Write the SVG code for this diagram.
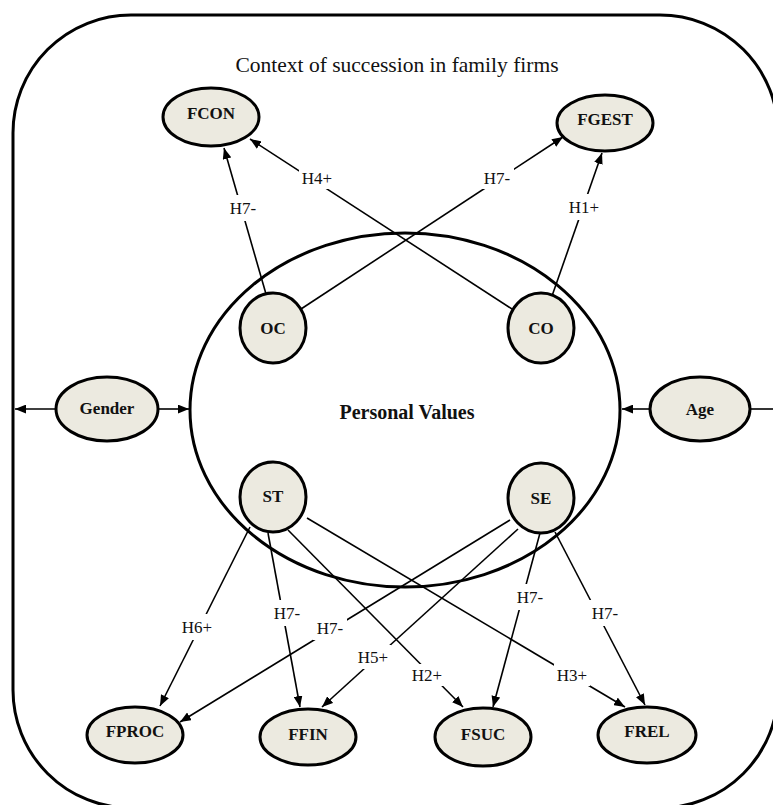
<svg xmlns="http://www.w3.org/2000/svg" width="773" height="805" viewBox="0 0 773 805">
<style>
.frame{fill:none;stroke:#000;stroke-width:3}
.node{fill:#ECEAE0;stroke:#000;stroke-width:3}
.nt{font-family:"Liberation Serif","Times New Roman",serif;font-weight:bold;font-size:17px;fill:#111;text-anchor:middle;dominant-baseline:central}
.lbl{font-family:"Liberation Serif","Times New Roman",serif;font-size:17px;fill:#111;text-anchor:middle;dominant-baseline:central}
.lb{fill:#fff}
.c{stroke:#000;stroke-width:1.6;fill:none}
.a{marker-end:url(#arr)}
</style>
<defs>
<marker id="arr" viewBox="0 0 10 8" refX="10" refY="4" markerWidth="11" markerHeight="9" markerUnits="userSpaceOnUse" orient="auto">
<path d="M0,0 L10,4 L0,8 Z" fill="#000"/>
</marker>
</defs>
<rect class="frame" x="13" y="15" width="765" height="793" rx="118" ry="118"/>
<text x="397" y="72" font-family="'Liberation Serif','Times New Roman',serif" font-size="21.5" text-anchor="middle" fill="#111">Context of succession in family firms</text>
<g id="personal-values">
<ellipse class="frame" cx="405" cy="410" rx="215" ry="177"/>
<text x="407" y="412" font-family="'Liberation Serif','Times New Roman',serif" font-weight="bold" font-size="20" text-anchor="middle" dominant-baseline="central" fill="#111">Personal Values</text>
</g>
<g id="connectors">
<line class="c a" x1="56" y1="409" x2="15" y2="409"/>
<line class="c a" x1="158" y1="409" x2="189" y2="409"/>
<line class="c a" x1="650" y1="409" x2="622" y2="409"/>
<line class="c" x1="750" y1="409" x2="776" y2="409"/>
<line class="c a" x1="266" y1="294" x2="224" y2="148"/>
<line class="c a" x1="512" y1="309" x2="250" y2="139"/>
<line class="c a" x1="301" y1="309" x2="563" y2="137"/>
<line class="c a" x1="552" y1="296" x2="602" y2="153"/>
<line class="c a" x1="250" y1="527" x2="160" y2="706"/>
<line class="c a" x1="510" y1="520" x2="180" y2="722"/>
<line class="c a" x1="268" y1="533" x2="300" y2="707"/>
<line class="c a" x1="518" y1="529" x2="322" y2="707"/>
<line class="c a" x1="288" y1="530" x2="463" y2="707"/>
<line class="c a" x1="307" y1="518" x2="625" y2="707"/>
<line class="c a" x1="540" y1="533" x2="493" y2="707"/>
<line class="c a" x1="555" y1="532" x2="645" y2="705"/>
<g id="labels">
<rect class="lb" x="226" y="195" width="34" height="26"/><text class="lbl" x="243" y="208">H7-</text>
<rect class="lb" x="299" y="167" width="36" height="22"/><text class="lbl" x="317" y="178">H4+</text>
<rect class="lb" x="480" y="167" width="34" height="22"/><text class="lbl" x="497" y="178">H7-</text>
<rect class="lb" x="566" y="194" width="36" height="26"/><text class="lbl" x="584" y="207">H1+</text>
<rect class="lb" x="179" y="614" width="36" height="26"/><text class="lbl" x="197" y="627">H6+</text>
<rect class="lb" x="313" y="616" width="34" height="24"/><text class="lbl" x="330" y="628">H7-</text>
<rect class="lb" x="270" y="600" width="34" height="26"/><text class="lbl" x="287" y="613">H7-</text>
<rect class="lb" x="355" y="645" width="36" height="24"/><text class="lbl" x="373" y="657">H5+</text>
<rect class="lb" x="409" y="664" width="36" height="22"/><text class="lbl" x="427" y="675">H2+</text>
<rect class="lb" x="554" y="664" width="36" height="22"/><text class="lbl" x="572" y="675">H3+</text>
<rect class="lb" x="513" y="584" width="34" height="26"/><text class="lbl" x="530" y="597">H7-</text>
<rect class="lb" x="588" y="600" width="34" height="26"/><text class="lbl" x="605" y="613">H7-</text>
</g>
</g>
<g id="FCON"><ellipse class="node" cx="211" cy="117" rx="48" ry="29"/><text class="nt" x="211" y="113">FCON</text></g>
<g id="FGEST"><ellipse class="node" cx="605" cy="123" rx="48" ry="28"/><text class="nt" x="605" y="119">FGEST</text></g>
<g id="OC"><ellipse class="node" cx="273" cy="328" rx="33" ry="35"/><text class="nt" x="273" y="328">OC</text></g>
<g id="CO"><ellipse class="node" cx="541" cy="328" rx="33" ry="35"/><text class="nt" x="541" y="328">CO</text></g>
<g id="Gender"><ellipse class="node" cx="107" cy="409" rx="51" ry="32"/><text class="nt" x="107" y="408">Gender</text></g>
<g id="Age"><ellipse class="node" cx="700" cy="409" rx="50" ry="32"/><text class="nt" x="700" y="409">Age</text></g>
<g id="ST"><ellipse class="node" cx="273" cy="497" rx="33" ry="35"/><text class="nt" x="273" y="496">ST</text></g>
<g id="SE"><ellipse class="node" cx="541" cy="498" rx="33" ry="35"/><text class="nt" x="541" y="498">SE</text></g>
<g id="FPROC"><ellipse class="node" cx="135" cy="735" rx="48" ry="28"/><text class="nt" x="135" y="731">FPROC</text></g>
<g id="FFIN"><ellipse class="node" cx="308" cy="737" rx="48" ry="28"/><text class="nt" x="308" y="734">FFIN</text></g>
<g id="FSUC"><ellipse class="node" cx="483" cy="737" rx="48" ry="29"/><text class="nt" x="483" y="734">FSUC</text></g>
<g id="FREL"><ellipse class="node" cx="647" cy="735" rx="49" ry="28"/><text class="nt" x="647" y="731">FREL</text></g>
</svg>
